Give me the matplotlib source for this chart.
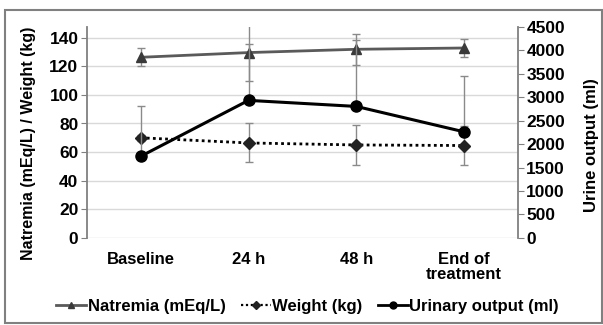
import numpy as np
import matplotlib
matplotlib.use("Agg")
import matplotlib.pyplot as plt
from matplotlib.patches import Rectangle
from matplotlib.lines import Line2D

plt.rcParams['font.family'] = ['Liberation Sans', 'DejaVu Sans']

# === DATOS ===
categorias = ["Baseline", "24 h", "48 h", "End of\ntreatment"]
natremia = [126.3, 129.6, 131.9, 132.8]
natremia_err = [6.3, 20.0, 11.0, 6.0]
peso = [70.0, 66.4, 65.0, 64.6]
peso_err = [2.0, 13.6, 14.0, 13.6]
orina = [1741, 2934, 2805, 2263]
orina_err_sup = [1064, 1200, 1413, 1190]

x = np.arange(len(categorias))

fig = plt.figure(figsize=(6.03, 3.25), dpi=100)
ax = fig.add_axes([0.144, 0.268, 0.715, 0.649])
ax2 = ax.twinx()

gris_err = "#8a8a8a"

# eje izquierdo
ax.errorbar(x, natremia, yerr=natremia_err, color="#5a5a5a", lw=2,
            marker="^", ms=7.5, mfc="#3a3a3a", mec="#3a3a3a",
            ecolor=gris_err, elinewidth=1, capsize=3, zorder=3)
ax.errorbar(x, peso, yerr=peso_err, color="black", lw=2, ls=(0, (1, 1.2)),
            marker="D", ms=6, mfc="#222222", mec="#222222",
            ecolor=gris_err, elinewidth=1, capsize=3, zorder=3)

# eje derecho
ax2.errorbar(x, orina, yerr=[np.zeros(len(orina)), orina_err_sup], color="black", lw=2.2,
             marker="o", ms=8, ecolor=gris_err, elinewidth=1, capsize=3, zorder=3)

ax.set_xlim(-0.5, 3.5)
ax.set_ylim(0, 147.5)
ax.set_yticks(np.arange(0, 141, 20))
ax2.set_ylim(0, 4500)
ax2.set_yticks(np.arange(0, 4501, 500))

ax.grid(axis="y", color="#d9d9d9", lw=1)
ax.set_axisbelow(True)
ax.set_xticks(x)
ax.set_xticklabels(categorias, fontsize=12, fontweight="bold", linespacing=1.0)
ax.tick_params(axis="x", length=0, pad=10)
ax.tick_params(axis="y", labelsize=12.5, length=4, color="#808080", pad=2)
ax2.tick_params(axis="y", labelsize=12.5, length=4, color="#808080", pad=2)
for lbl in ax.get_yticklabels() + ax2.get_yticklabels():
    lbl.set_fontweight("bold")

for a in (ax, ax2):
    a.spines["top"].set_visible(False)
    a.spines["bottom"].set_visible(False)
    a.spines["left"].set_color("#808080")
    a.spines["right"].set_color("#808080")
    a.spines["left"].set_linewidth(1.3)
    a.spines["right"].set_linewidth(1.3)
ax2.spines["left"].set_visible(False)
ax.spines["right"].set_visible(False)

ax.set_ylabel("Natremia (mEq/L) / Weight (kg)", fontsize=11.5, fontweight="bold")
ax.yaxis.set_label_coords(-0.117, 0.45)
ax2.set_ylabel("Urine output (ml)", fontsize=12, fontweight="bold")
ax2.yaxis.set_label_coords(1.153, 0.44)

# leyenda con marcadores pequeños
handles = [
    Line2D([], [], color="#5a5a5a", lw=2, marker="^", ms=5, mfc="#3a3a3a", mec="#3a3a3a"),
    Line2D([], [], color="black", lw=1.6, ls=(0, (1, 1.2)), marker="D", ms=4, mfc="#222222", mec="#222222"),
    Line2D([], [], color="black", lw=2, marker="o", ms=5),
]
etiquetas = ["Natremia (mEq/L)", "Weight (kg)", "Urinary output (ml)"]
fig.legend(handles, etiquetas, loc="center", bbox_to_anchor=(0.51, 0.057), ncol=3,
           frameon=False, handlelength=1.8, handletextpad=0.1, columnspacing=0.9,
           prop={"size": 12, "weight": "bold"})

# marco exterior
fig.patches.append(Rectangle((0.008, 0.006), 0.99, 0.963, transform=fig.transFigure,
                             fill=False, ec="#808080", lw=1.5))

fig.savefig("out.png", dpi=100)
